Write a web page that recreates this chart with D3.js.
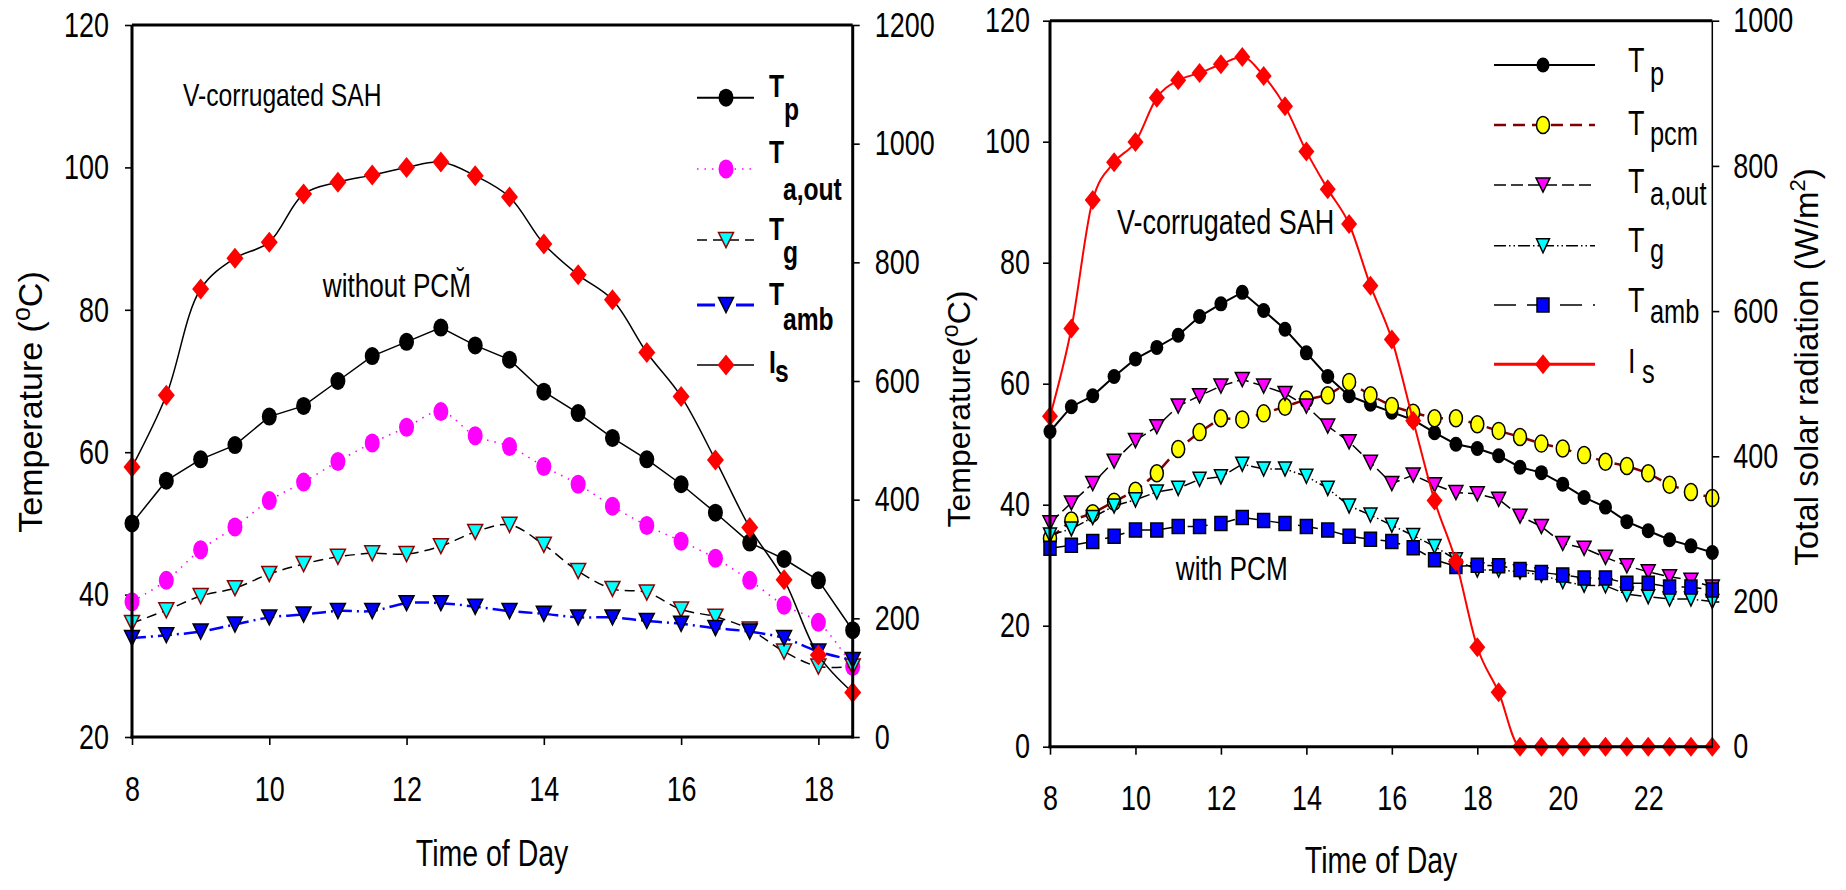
<!DOCTYPE html>
<html><head><meta charset="utf-8">
<script src="https://cdn.jsdelivr.net/npm/d3@7"></script>
<style>
body{margin:0;background:#fff;}
svg{display:block;}
.nar{font-family:"Liberation Sans",Arial,sans-serif;transform-box:fill-box;transform:scaleX(0.77);}
.os{transform-origin:left center;}
.oe{transform-origin:right center;}
.om{transform-origin:center center;}
.reg{font-family:"Liberation Sans",Arial,sans-serif;}
</style></head><body>
<svg id="c" width="1846" height="890"></svg>
<script>
// ---------------- DATA ----------------
const hoursA = [8,8.5,9,9.5,10,10.5,11,11.5,12,12.5,13,13.5,14,14.5,15,15.5,16,16.5,17,17.5,18,18.5];
const TpA    = [50,56,59,61,65,66.5,70,73.5,75.5,77.5,75,73,68.5,65.5,62,59,55.5,51.5,47.3,45,42,35];
const TaoutA = [39,42,46.3,49.5,53.2,55.8,58.7,61.3,63.5,65.7,62.3,60.8,58,55.5,52.4,49.7,47.5,45.1,42,38.5,36.1,29.9];
const TgA    = [36,37.8,39.8,40.9,42.9,44.3,45.3,45.8,45.7,46.8,48.8,49.8,47,43.3,40.8,40.3,37.9,36.9,35.1,32,29.9,29.9];
const TambA  = [33.9,34.3,34.8,35.8,36.8,37.2,37.7,37.7,38.8,38.8,38.3,37.7,37.3,36.8,36.8,36.3,35.9,35.3,34.8,33.9,32,30.8];
const IsA    = [455,576,755,807,834,915,935,947,960,969,946,910,831,779,737,648,574,467,353,265,138,75];

const hoursB = [8,8.5,9,9.5,10,10.5,11,11.5,12,12.5,13,13.5,14,14.5,15,15.5,16,16.5,17,17.5,18,18.5,19,19.5,20,20.5,21,21.5,22,22.5,23,23.5];
const TpB    = [52.1,56.2,58,61.2,64.1,66,68,71.1,73.2,75.1,72.1,69,65.1,61.2,58,56.6,55.3,54,51.9,50,49.3,48.1,46.2,45.3,43.4,41.2,39.6,37.2,35.7,34.2,33.2,32.1];
const TpcmB  = [34.4,37.4,38.6,40.5,42.3,45.2,49.2,52,54.3,54.1,55.1,56.2,57.4,58.1,60.3,58.1,56.3,55.2,54.3,54.3,53.3,52.2,51.2,50.1,49.3,48.2,47.1,46.4,45.2,43.3,42.1,41.1];
const TaoutB = [37,40.3,43.5,47.2,50.6,52.9,56.3,58,59.6,60.7,59.6,58.4,56.3,53,50.4,47,43.5,44.9,43.3,42,41.8,40.9,38.1,36.4,33.6,32.8,31.3,29.9,28.9,28.1,27.5,26.4];
const TgB    = [35,36,37.9,39.8,40.8,42.1,42.7,44.2,44.6,46.7,45.9,45.9,44.7,42.7,39.8,38.3,36.6,34.9,33.1,30.9,29.2,29.2,28.9,28.4,27.3,26.7,26.6,25.2,24.8,24.4,24.4,24];
const TambB  = [32.8,33.3,33.9,34.8,35.8,35.8,36.4,36.4,36.9,37.9,37.4,36.9,36.4,35.8,34.8,34.3,33.9,32.9,30.9,29.8,30,29.9,29.3,28.8,28.4,27.9,27.9,27,27,26.4,26.4,25.9];
const IsB    = [455,576,753,805,833,894,918,928,940,950,924,882,820,768,720,635,561,449,339,255,137,75,0,0,0,0,0,0,0,0,0,0];

const xTicksA = [8,10,12,14,16,18];
const yTicksA = [20,40,60,80,100,120];
const y2TicksA = [0,200,400,600,800,1000,1200];
const xTicksB = [8,10,12,14,16,18,20,22];
const yTicksB = [0,20,40,60,80,100,120];
const y2TicksB = [0,200,400,600,800,1000];

// ---------------- HELPERS ----------------
const svg = d3.select('#c');
const fmt = d3.format('d');

function markerPath(type, w, h){
  const a = w/2, b = h/2;
  if(type==='circle') return `M${-a},0a${a},${b} 0 1,0 ${w},0a${a},${b} 0 1,0 ${-w},0Z`;
  if(type==='diamond') return `M0,${-b}L${a},0L0,${b}L${-a},0Z`;
  if(type==='tri') return `M${-a},${-b}L${a},${-b}L0,${b}Z`;
  if(type==='square') return `M${-a},${-b}h${w}v${h}h${-w}Z`;
}

function drawSeries(g, xs, vals, xS, yS, st){
  const pts = xs.map((x,i)=>[xS(x), yS(vals[i])]);
  const line = d3.line().curve(st.curve || d3.curveLinear);
  g.append('path').attr('d', line(pts)).attr('fill','none')
    .attr('stroke', st.stroke).attr('stroke-width', st.sw)
    .attr('stroke-dasharray', st.dash || null);
  g.selectAll(null).data(pts).enter().append('path')
    .attr('transform', d=>`translate(${d[0]},${d[1]})`)
    .attr('d', markerPath(st.m, st.mw, st.mh))
    .attr('fill', st.fill).attr('stroke', st.mstroke || 'none')
    .attr('stroke-width', st.msw || 0);
}

function styleAxis(sel, fs, orig){
  sel.select('.domain').remove();
  sel.selectAll('.tick line').attr('stroke','#000').attr('stroke-width',1.6);
  sel.selectAll('.tick text').attr('class','nar '+orig).attr('font-size',fs).attr('fill','#000');
}

function ntext(g, cls, x, y, fs, str, extra){
  const t = g.append('text').attr('class','nar '+cls).attr('x',x).attr('y',y).attr('font-size',fs).text(str);
  if(cls==='om') t.attr('text-anchor','middle');
  if(extra) extra(t);
  return t;
}

// ================= LEFT CHART =================
const xA = d3.scaleLinear([8,18.5],[132,852.7]);
const yA = d3.scaleLinear([20,120],[737,25]);
const y2A = d3.scaleLinear([0,1200],[737,25]);

const gA = svg.append('g');
gA.append('g').attr('transform','translate(0,737)')
  .call(d3.axisBottom(xA).tickValues(xTicksA).tickFormat(fmt).tickSize(8).tickPadding(31).tickSizeOuter(0))
  .call(s=>styleAxis(s,35,'om'));
gA.append('g').attr('transform','translate(132,0)')
  .call(d3.axisLeft(yA).tickValues(yTicksA).tickFormat(fmt).tickSize(7).tickPadding(16).tickSizeOuter(0))
  .call(s=>styleAxis(s,35,'oe'));
gA.append('g').attr('transform','translate(852.7,0)')
  .call(d3.axisRight(y2A).tickValues(y2TicksA).tickFormat(fmt).tickSize(7).tickPadding(15).tickSizeOuter(0))
  .call(s=>styleAxis(s,35,'os'));

const seriesA = [
  {vals:TpA, y:yA, stroke:'#000', sw:1.5, m:'circle', mw:15, mh:18, fill:'#000'},
  {vals:TaoutA, y:yA, stroke:'#ff00ff', sw:1.6, dash:'1.5,6', curve:d3.curveCatmullRom, m:'circle', mw:15, mh:19, fill:'#ff00ff'},
  {vals:TgA, y:yA, stroke:'#000', sw:1.5, dash:'10,6', curve:d3.curveCatmullRom, m:'tri', mw:15, mh:15, fill:'#00ffff', mstroke:'#8b0000', msw:1.5},
  {vals:TambA, y:yA, stroke:'#0000ff', sw:2.5, dash:'14,5,2,5', curve:d3.curveCatmullRom, m:'tri', mw:15, mh:15, fill:'#0000ff', mstroke:'#000', msw:1.5},
  {vals:IsA, y:y2A, stroke:'#000', sw:1.5, curve:d3.curveCatmullRom, m:'diamond', mw:17, mh:21, fill:'#ff0000'}
];
seriesA.forEach(s=>drawSeries(gA, hoursA, s.vals, xA, s.y, s));

[[132,25,132,738.5],[130.5,737,852.7,737],[132,25,852.7,25],[852.7,25,852.7,738.5]].forEach(l=>
  gA.append('line').attr('x1',l[0]).attr('y1',l[1]).attr('x2',l[2]).attr('y2',l[3])
    .attr('stroke','#000').attr('stroke-width',3));

ntext(gA,'os',183,106,32,'V-corrugated SAH');
ntext(gA,'os',323,297,34,'without PCM\u0306');

const legA = [
  {y:97.7, main:'T', sub:'p', tb:97, sb:120, sx:784, st:seriesA[0], lw:2},
  {y:169, main:'T', sub:'a,out', tb:163, sb:200, sx:783, st:seriesA[1]},
  {y:240, main:'T', sub:'g', tb:240, sb:263, sx:783, st:seriesA[2]},
  {y:305, main:'T', sub:'amb', tb:305, sb:330, sx:783, st:seriesA[3], dash:'18,21', lw:3},
  {y:365, main:'I', sub:'s', tb:373, sb:382, sx:775, st:seriesA[4]}
];
legA.forEach(d=>{
  gA.append('line').attr('x1',697).attr('x2',754).attr('y1',d.y).attr('y2',d.y)
    .attr('stroke',d.st.stroke).attr('stroke-width',d.lw||d.st.sw)
    .attr('stroke-dasharray', d.dash || d.st.dash || null);
  gA.append('path').attr('transform',`translate(726,${d.y})`).attr('d',markerPath(d.st.m,d.st.mw,d.st.mh))
    .attr('fill',d.st.fill).attr('stroke',d.st.mstroke||'none').attr('stroke-width',d.st.msw||0);
  ntext(gA,'os',769,d.tb,32,d.main,t=>t.attr('font-weight','bold'));
  ntext(gA,'os',d.sx,d.sb,32,d.sub,t=>t.attr('font-weight','bold'));
});

const tA = gA.append('text').attr('class','reg').attr('font-size',34).attr('text-anchor','middle')
  .attr('transform','translate(42,402) rotate(-90)');
tA.append('tspan').text('Temperature (');
tA.append('tspan').attr('font-size',25).attr('dy',-12).text('o');
tA.append('tspan').attr('dy',12).text('C)');
ntext(gA,'om',492,866,37,'Time of Day');

// ================= RIGHT CHART =================
const xB = d3.scaleLinear([8,23.5],[1050,1712.3]);
const yB = d3.scaleLinear([0,120],[746.7,20.7]);
const y2B = d3.scaleLinear([0,1000],[746.7,20.7]);

const gB = svg.append('g');
gB.append('g').attr('transform','translate(0,746.7)')
  .call(d3.axisBottom(xB).tickValues(xTicksB).tickFormat(fmt).tickSize(8).tickPadding(30).tickSizeOuter(0))
  .call(s=>styleAxis(s,35,'om'));
gB.append('g').attr('transform','translate(1050,0)')
  .call(d3.axisLeft(yB).tickValues(yTicksB).tickFormat(fmt).tickSize(7).tickPadding(13).tickSizeOuter(0))
  .call(s=>styleAxis(s,35,'oe'));
gB.append('g').attr('transform','translate(1712.3,0)')
  .call(d3.axisRight(y2B).tickValues(y2TicksB).tickFormat(fmt).tickSize(7).tickPadding(14).tickSizeOuter(0))
  .call(s=>styleAxis(s,35,'os'));

const seriesB = [
  {vals:TpB, y:yB, stroke:'#000', sw:2, m:'circle', mw:13, mh:15, fill:'#000'},
  {vals:TpcmB, y:yB, stroke:'#800000', sw:2.5, dash:'12,7', m:'circle', mw:13, mh:17, fill:'#ffff00', mstroke:'#000', msw:1.5},
  {vals:TaoutB, y:yB, stroke:'#000', sw:1.5, dash:'12,5', m:'tri', mw:14, mh:14, fill:'#ff00ff', mstroke:'#000', msw:1.5},
  {vals:TgB, y:yB, stroke:'#000', sw:1.5, dash:'12,3,1.5,3,1.5,3', m:'tri', mw:13, mh:14, fill:'#00ffff', mstroke:'#000', msw:1.5},
  {vals:TambB, y:yB, stroke:'#000', sw:1.5, dash:'20,8', m:'square', mw:12, mh:14, fill:'#0000ff', mstroke:'#000', msw:1.5},
  {vals:IsB, y:y2B, stroke:'#ff0000', sw:2, curve:d3.curveMonotoneX, m:'diamond', mw:16, mh:20, fill:'#ff0000'}
];
seriesB.forEach(s=>drawSeries(gB, hoursB, s.vals, xB, s.y, s));

[[1050,20.7,1050,748.2,3],[1048.5,746.7,1712.3,746.7,3],[1050,20.7,1712.3,20.7,3],[1712.3,20.7,1712.3,748,1.5]].forEach(l=>
  gB.append('line').attr('x1',l[0]).attr('y1',l[1]).attr('x2',l[2]).attr('y2',l[3])
    .attr('stroke','#000').attr('stroke-width',l[4]));

ntext(gB,'os',1117,234,35,'V-corrugated SAH');
ntext(gB,'os',1176,580,34,'with PCM');

const legB = [
  {y:65, main:'T', sub:'p', tb:72, sb:85, sx:1650, st:seriesB[0]},
  {y:125, main:'T', sub:'pcm', tb:135, sb:145, sx:1650, st:seriesB[1]},
  {y:185, main:'T', sub:'a,out', tb:193, sb:205, sx:1650, st:seriesB[2]},
  {y:245.7, main:'T', sub:'g', tb:252, sb:262, sx:1650, st:seriesB[3]},
  {y:305, main:'T', sub:'amb', tb:312, sb:323, sx:1650, st:seriesB[4], dash:'22,11'},
  {y:364.3, main:'I', sub:'s', tb:373, sb:383, sx:1642, st:seriesB[5], lw:3}
];
legB.forEach(d=>{
  gB.append('line').attr('x1',1494).attr('x2',1595).attr('y1',d.y).attr('y2',d.y)
    .attr('stroke',d.st.stroke).attr('stroke-width',d.lw||d.st.sw)
    .attr('stroke-dasharray', d.dash || d.st.dash || null);
  gB.append('path').attr('transform',`translate(1543,${d.y})`).attr('d',markerPath(d.st.m,d.st.mw,d.st.mh))
    .attr('fill',d.st.fill).attr('stroke',d.st.mstroke||'none').attr('stroke-width',d.st.msw||0);
  ntext(gB,'os',1628,d.tb,35,d.main);
  ntext(gB,'os',d.sx,d.sb,33,d.sub);
});

const tB = gB.append('text').attr('class','reg').attr('font-size',32).attr('text-anchor','middle')
  .attr('transform','translate(970,409) rotate(-90)');
tB.append('tspan').text('Temperature(');
tB.append('tspan').attr('font-size',23).attr('dy',-12).text('o');
tB.append('tspan').attr('dy',12).text('C)');

const tB2 = gB.append('text').attr('class','reg').attr('font-size',33).attr('text-anchor','middle')
  .attr('transform','translate(1818,367) rotate(-90)');
tB2.append('tspan').text('Total solar radiation (W/m');
tB2.append('tspan').attr('font-size',22).attr('dy',-13).text('2');
tB2.append('tspan').attr('dy',13).text(')');

ntext(gB,'om',1381,873,37,'Time of Day');
</script>
</body></html>
